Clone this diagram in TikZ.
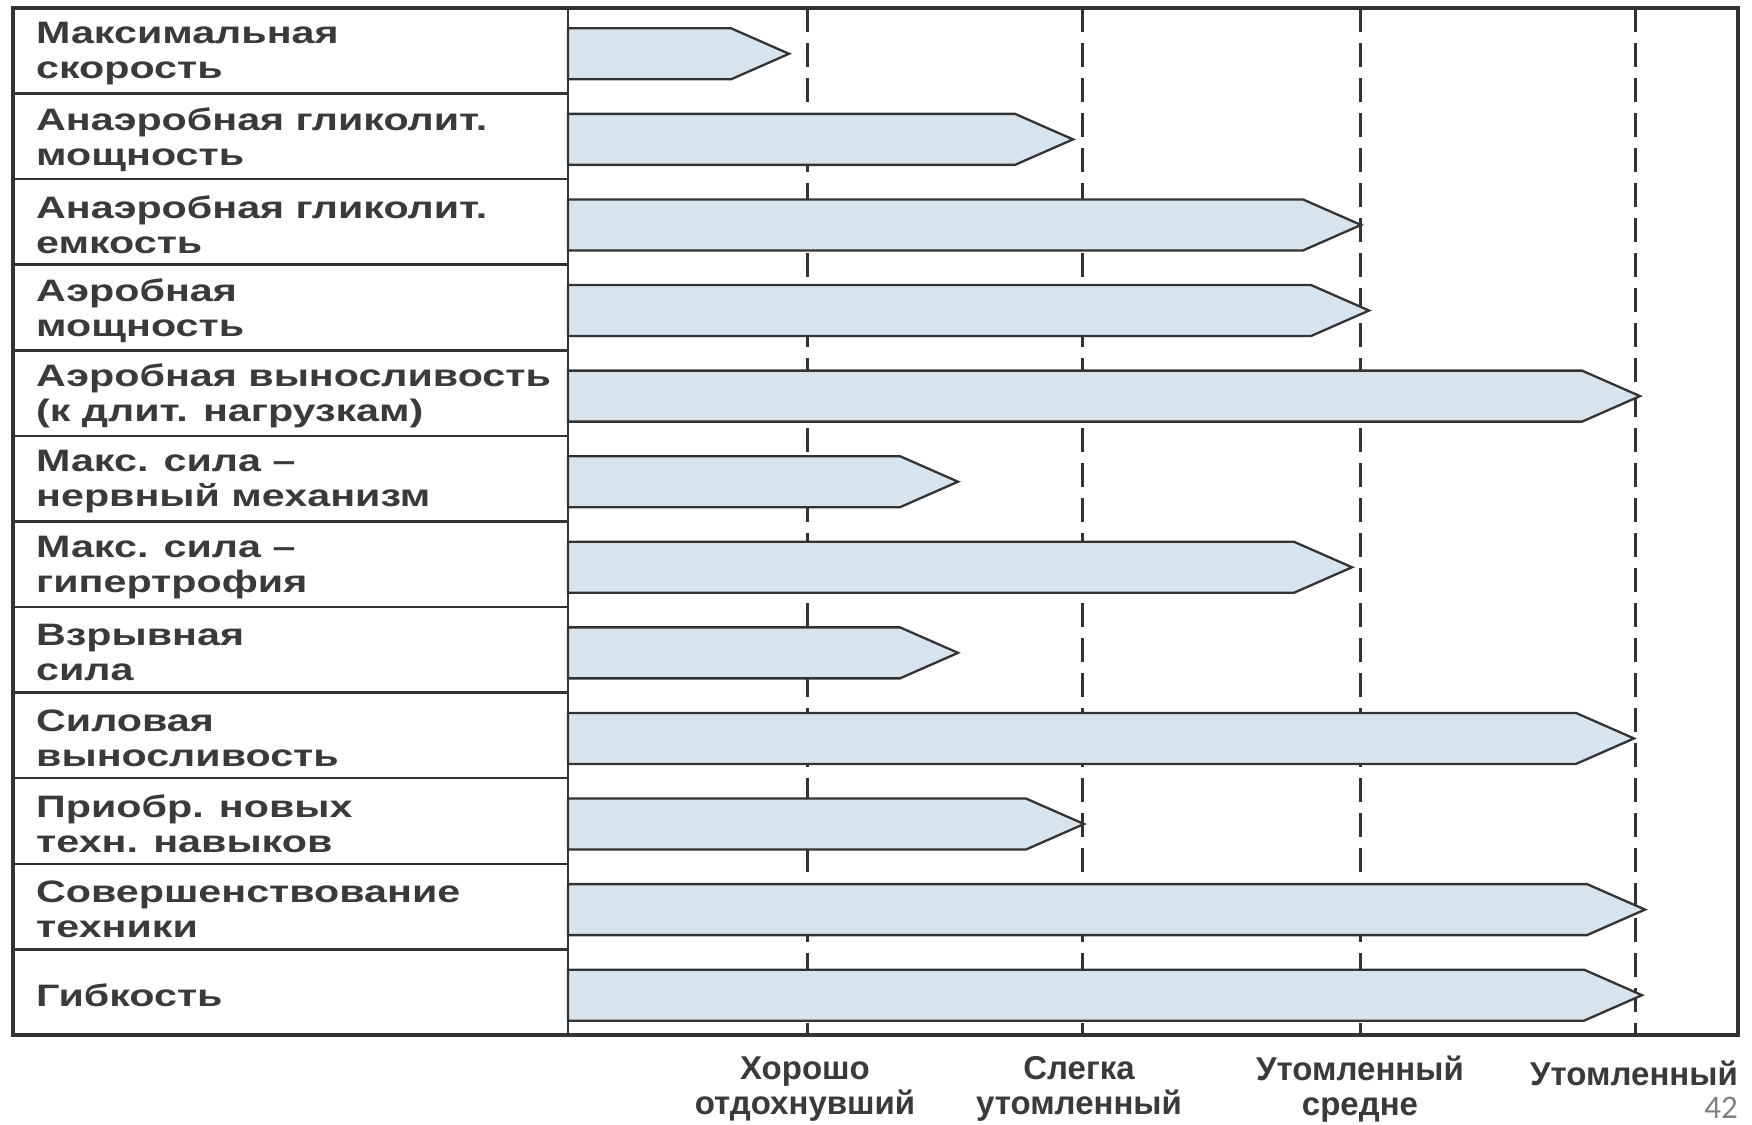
\documentclass[tikz,border=0pt]{standalone}
\usepackage{fontspec}
\newfontfamily\lblfont[FakeStretch=1.33]{Liberation Sans}
\newfontfamily\axfont{Liberation Sans}
\newfontfamily\pgfont{Carlito}
\definecolor{ink}{HTML}{333333}
\definecolor{txtink}{HTML}{3A3A3A}
\definecolor{barfill}{HTML}{D7E4EE}
\definecolor{pgray}{HTML}{808080}
\tikzset{
  rowlbl/.style={anchor=west, align=left, text=txtink, inner sep=0pt,
    font=\lblfont\bfseries\fontsize{31}{35}\selectfont},
  barshape/.style={draw=ink, line width=2.3pt, fill=barfill, line join=miter},
  dashline/.style={draw=ink, line width=3pt, dash pattern=on 24pt off 11pt},
  framel/.style={draw=ink, line width=3.2pt},
  rowline/.style={draw=ink, line width=2.5pt},
  axlbl/.style={align=center, text=txtink, inner sep=0pt,
    font=\axfont\bfseries\fontsize{33}{35}\selectfont},
}
\begin{document}
\begin{tikzpicture}[x=1pt,y=-1pt]
\useasboundingbox[fill=white] (0,0) rectangle (1752,1124);
% dashed level lines
\foreach \xx in {807,1082,1360,1635}{
  \draw[dashline] (\xx,8) -- (\xx,1035);
}
% bars and row labels
\foreach \i/\tip/\txt in {
  1/789/{Максимальная\\скорость},
  2/1073/{Анаэробная гликолит.\\мощность},
  3/1361/{Анаэробная гликолит.\\емкость},
  4/1369/{Аэробная\\мощность},
  5/1640/{Аэробная выносливость\\(к длит. нагрузкам)},
  6/958/{Макс. сила –\\нервный механизм},
  7/1352/{Макс. сила –\\гипертрофия},
  8/958/{Взрывная\\сила},
  9/1634/{Силовая\\выносливость},
  10/1084/{Приобр. новых\\техн. навыков},
  11/1645/{Совершенствование\\техники},
  12/1642/{Гибкость}}{
  \pgfmathsetmacro\c{8+(\i-0.5)*85.58}
  \pgfmathsetmacro\bc{\c+3}
  \pgfmathsetmacro\sh{\tip-58}
  \draw[barshape] (568,\bc-25.5) -- (\sh,\bc-25.5) -- (\tip,\bc) -- (\sh,\bc+25.5) -- (568,\bc+25.5) -- cycle;
  \node[rowlbl] (lbl\i) at (36,\c+3) {\txt};
}
% table frame and dividers
\foreach \k in {1,...,11}{
  \pgfmathsetmacro\yy{8+\k*85.58}
  \draw[rowline] (13,\yy) -- (568,\yy);
}
\draw[rowline] (568,8) -- (568,1035);
\draw[framel] (13,8) rectangle (1738,1035);
% axis labels
\node[axlbl] (ax1) at (805,1089) {Хорошо\\отдохнувший};
\node[axlbl] (ax2) at (1079,1089) {Слегка\\утомленный};
\node[axlbl] (ax3) at (1360,1089) {Утомленный\\средне};
\node[axlbl] (ax4) at (1634,1073) {Утомленный};
\node[text=pgray, font=\pgfont\fontsize{33}{36}\selectfont, inner sep=0pt] (pg) at (1721,1108) {42};
\end{tikzpicture}
\end{document}
